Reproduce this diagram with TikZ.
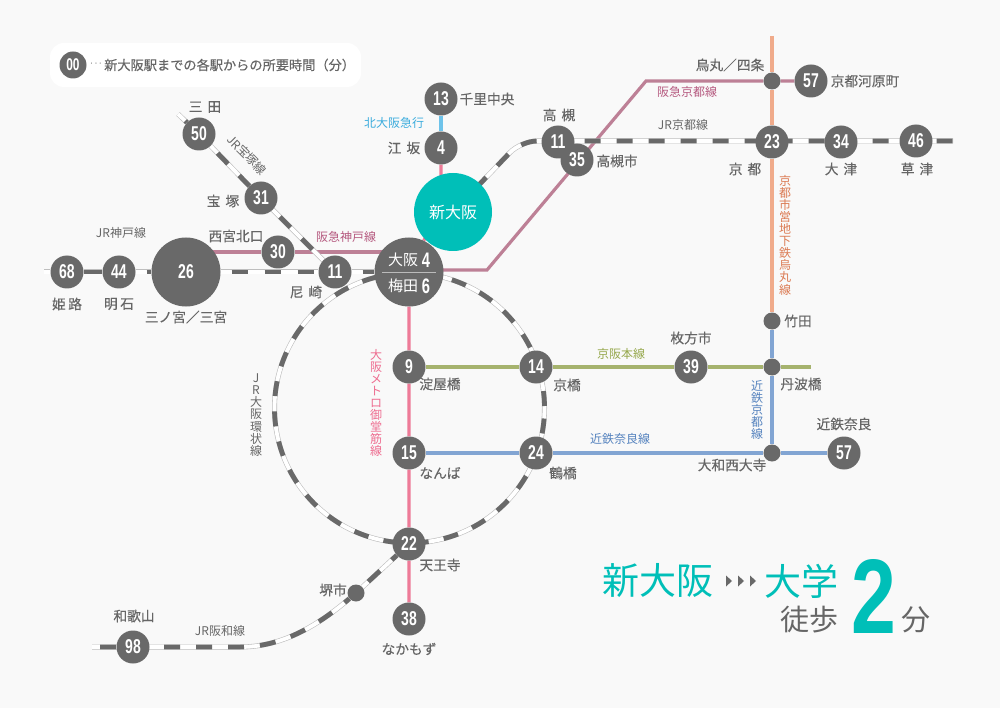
\documentclass[tikz,border=0pt]{standalone}
\usepackage{fontspec}
\setmainfont{Noto Sans CJK JP}
\newfontfamily\lblfont[FakeBold=0.25]{Noto Sans CJK JP}
\newfontfamily\numfont[FakeStretch=0.7]{Liberation Sans Bold}
\newfontfamily\bigfont[FakeStretch=0.76]{Liberation Sans Bold}
\pgfdeclarelayer{bg}
\pgfsetlayers{bg,main}
\definecolor{paper}{HTML}{F9F9F9}
\definecolor{stn}{HTML}{696969}
\definecolor{ink}{HTML}{666666}
\definecolor{teal}{HTML}{00BFB8}
\definecolor{edgegrey}{HTML}{BEBEBE}
\definecolor{hankyu}{HTML}{BD8096}
\definecolor{hankyutx}{HTML}{B5597F}
\definecolor{midosuji}{HTML}{EE7B98}
\definecolor{midotx}{HTML}{EE6D90}
\definecolor{kita}{HTML}{6EC3EA}
\definecolor{kitatx}{HTML}{3BACDD}
\definecolor{karasuma}{HTML}{F0AB8B}
\definecolor{karatx}{HTML}{DB7A52}
\definecolor{kintetsu}{HTML}{82A5D3}
\definecolor{kintx}{HTML}{5482BE}
\definecolor{keihan}{HTML}{A6B36E}
\definecolor{keitx}{HTML}{96A84C}
\tikzset{
  stnbase/.style={circle,fill=stn,text=white,inner sep=0pt,font=\numfont\fontsize{20}{20}\selectfont},
  stnsmall/.style={stnbase,minimum size=33pt},
  stnbig/.style={stnbase,minimum size=69pt},
  stndot/.style={circle,fill=stn,inner sep=0pt,minimum size=17pt},
  lbl/.style={text=ink,inner sep=0pt,font=\lblfont\fontsize{13.7}{13.7}\selectfont},
  linelbl/.style={inner sep=0pt,font=\fontsize{12}{12}\selectfont},
  vlbl/.style={inner sep=0pt,align=center,font=\fontsize{12}{12.1}\selectfont},
  metro/.style={line width=3.2pt,draw=#1},
  rail/.style n args={3}{draw=edgegrey,line width=5pt,
    postaction={draw=white,line width=3.8pt},
    postaction={draw=stn,line width=4.8pt,dash pattern=on #1pt off #2pt,dash phase=#3pt}},
  railsolid/.style={draw=stn,line width=4.8pt},
}
\begin{document}
\begin{tikzpicture}[x=1pt,y=-1pt]
\useasboundingbox (0,0) rectangle (1000,708);
% legend
\node[fill=white,rounded corners=14pt,minimum width=311pt,minimum height=44pt,inner sep=0pt] (legend) at (205.5,65) {};
\node[stnsmall,minimum size=27pt,font=\numfont\fontsize{17}{17}\selectfont] (s00) at (73,65) {00};
\node[inner sep=0pt,text=ink,font=\fontsize{8}{8}\selectfont] (dots) at (96,65) {···};
\node[lbl,anchor=west,font=\lblfont\fontsize{13.2}{13.2}\selectfont] (legtext) at (104,65) {新大阪駅までの各駅からの所要時間（分）};
% stations
\node[stnsmall] (sanda) at (199,134) {50};
\node[stnsmall] (takarazuka) at (261,198) {31};
\node[stnsmall] (amagasaki) at (335,272) {11};
\node[stnsmall] (nishinomiya) at (278,252) {30};
\node[stnbig] (sannomiya) at (186,272) {26};
\node[stnsmall] (akashi) at (119,272) {44};
\node[stnsmall] (himeji) at (67,272) {68};
\node[stnbig] (osaka) at (409,272) {};
\node[stnbase,fill=teal,minimum size=78pt,font=\fontsize{16}{16}\selectfont] (shin) at (453,212) {新大阪};
\node[stnsmall] (senri) at (441,99) {13};
\node[stnsmall] (esaka) at (441,148) {4};
\node[stnsmall] (takatsuki) at (558,142) {11};
\node[stnsmall] (takatsukishi) at (577,160) {35};
\node[stnsmall] (kawaramachi) at (811,81) {57};
\node[stndot] (karasumadot) at (772,81) {};
\node[stnsmall] (kyoto) at (772,142) {23};
\node[stnsmall] (otsu) at (841,142) {34};
\node[stnsmall] (kusatsu) at (916,141) {46};
\node[stndot] (takeda) at (772,321) {};
\node[stndot] (tambabashi) at (772,367) {};
\node[stnsmall] (hirakata) at (691,367) {39};
\node[stnsmall] (kyobashi) at (536,367) {14};
\node[stnsmall] (yodoyabashi) at (409,367) {9};
\node[stnsmall] (namba) at (409,453) {15};
\node[stnsmall] (tsuruhashi) at (536,453) {24};
\node[stnsmall] (tennoji) at (409,544) {22};
\node[stnsmall] (nakamozu) at (409,619) {38};
\node[stnsmall] (nara) at (844,453) {57};
\node[stndot] (saidaiji) at (772,453) {};
\node[stndot] (sakai) at (356,593) {};
\node[stnsmall] (wakayama) at (133,647) {98};
% free ends
\coordinate (ringc) at (409.5,408);
\coordinate (kobeEnd) at (44,272);
\coordinate (sandaEnd) at (178,114);
\coordinate (kyotoEnd) at (953,141);
\coordinate (kyotoBend) at (521,141);
\coordinate (hanwaEnd) at (92,647);
\coordinate (hanwaBend) at (240,647);
\coordinate (hkBend) at (487,270);
\coordinate (hkTop) at (646,81);
\coordinate (karaTop) at (772,36);
\coordinate (keihanEnd) at (811,367);
\coordinate (midoBend) at (441,204);
\begin{pgfonlayer}{bg}
\fill[paper] (0,0) rectangle (1000,708);
\draw[metro=kita] (senri) -- (esaka);
\draw[metro=midosuji] (esaka) -- (midoBend) -- (osaka) -- (yodoyabashi) -- (namba) -- (tennoji) -- (nakamozu);
\draw[metro=hankyu] (sannomiya |- nishinomiya) -- (nishinomiya) -- (osaka |- nishinomiya);
\draw[metro=hankyu,line join=miter] (osaka |- hkBend) -- (hkBend) -- (hkTop) -- (karasumadot) -- (kawaramachi);
\draw[metro=karasuma] (karaTop) -- (karasumadot) -- (kyoto) -- (takeda);
\draw[metro=kintetsu] (takeda) -- (tambabashi) -- (saidaiji);
\draw[metro=kintetsu] (namba) -- (tsuruhashi) -- (saidaiji) -- (nara);
\draw[metro=keihan] (yodoyabashi) -- (kyobashi) -- (hirakata) -- (tambabashi) -- (keihanEnd);
\draw[rail={16}{17}{22}] (kobeEnd) -- (himeji) -- (akashi) -- (sannomiya) -- (amagasaki) -- (osaka);
\draw[railsolid] (himeji) -- (akashi);
\draw[rail={15}{16}{21}] (sandaEnd) -- (sanda) -- (takarazuka) -- (amagasaki);
\draw[rail={16}{16}{0},rounded corners=16pt] (shin.center) -- (kyotoBend) -- (kyotoEnd);
\draw[rail={15}{15.4}{28.4}] (ringc) circle[radius=135pt];
\draw[rail={16}{16}{24}] (hanwaEnd) -- (hanwaBend) .. controls (280,647) and (315,628) .. (sakai) -- (tennoji);
\end{pgfonlayer}
% Osaka text
\draw[draw=white,opacity=.55,line width=.6pt] ([xshift=-27pt]osaka.center) -- ([xshift=27pt]osaka.center);
\node[text=white,inner sep=0pt,font=\fontsize{15}{15}\selectfont] (osakaA) at (403,260) {大阪};
\node[text=white,inner sep=0pt,font=\numfont\fontsize{21}{21}\selectfont] (osakaB) at (426,260) {4};
\node[text=white,inner sep=0pt,font=\fontsize{15}{15}\selectfont] (umedaA) at (403,286) {梅田};
\node[text=white,inner sep=0pt,font=\numfont\fontsize{21}{21}\selectfont] (umedaB) at (426,286) {6};
% station labels
\node[lbl] (l1) at (205,107) {三\hspace{5pt}田};
\node[lbl] (l2) at (223,201) {宝\hspace{5pt}塚};
\node[lbl] (l3) at (236,236) {西宮北口};
\node[lbl] (l4) at (306,292) {尼\hspace{5pt}崎};
\node[lbl] (l5) at (67,304) {姫\hspace{2.5pt}路};
\node[lbl] (l6) at (119,304) {明\hspace{2.5pt}石};
\node[lbl] (l7) at (186,317) {三ノ宮／三宮};
\node[lbl] (l8) at (487,99) {千里中央};
\node[lbl] (l9) at (404,148) {江\hspace{5pt}坂};
\node[lbl] (l10) at (559,115) {高\hspace{5pt}槻};
\node[lbl] (l11) at (617,161) {高槻市};
\node[lbl] (l12) at (730,65) {烏丸／四条};
\node[lbl] (l13) at (865,81) {京都河原町};
\node[lbl] (l14) at (745,169) {京\hspace{5pt}都};
\node[lbl] (l15) at (841,169) {大\hspace{5pt}津};
\node[lbl] (l16) at (917,169) {草\hspace{5pt}津};
\node[lbl] (l17) at (798,321) {竹田};
\node[lbl] (l18) at (691,338) {枚方市};
\node[lbl] (l19) at (801,384) {丹波橋};
\node[lbl] (l20) at (844,424) {近鉄奈良};
\node[lbl] (l21) at (732,465) {大和西大寺};
\node[lbl] (l22) at (567,385) {京橋};
\node[lbl] (l23) at (563,473) {鶴橋};
\node[lbl] (l24) at (440,384) {淀屋橋};
\node[lbl] (l25) at (440,473) {なんば};
\node[lbl] (l26) at (440,565) {天王寺};
\node[lbl] (l27) at (333,590) {堺市};
\node[lbl] (l28) at (134,616) {和歌山};
\node[lbl] (l29) at (409,649) {なかもず};
% line labels
\node[linelbl,text=ink] (t1) at (121,233) {JR神戸線};
\node[linelbl,text=ink,rotate=-45] (t2) at (247,155) {JR宝塚線};
\node[linelbl,text=hankyutx] (t3) at (346,237) {阪急神戸線};
\node[linelbl,text=kitatx] (t4) at (394,123) {北大阪急行};
\node[linelbl,text=hankyutx] (t5) at (687,92) {阪急京都線};
\node[linelbl,text=ink] (t6) at (683,125) {JR京都線};
\node[linelbl,text=keitx] (t7) at (621,354) {京阪本線};
\node[linelbl,text=kintx] (t8) at (620,439) {近鉄奈良線};
\node[linelbl,text=ink] (t9) at (220,631) {JR阪和線};
\node[vlbl,text=karatx] (v1) at (785,235) {京\\都\\市\\営\\地\\下\\鉄\\烏\\丸\\線};
\node[vlbl,text=kintx] (v2) at (757,410) {近\\鉄\\京\\都\\線};
\node[vlbl,text=ink] (v3) at (256,415) {J\\R\\大\\阪\\環\\状\\線};
\node[vlbl,text=midotx] (v4) at (376,403) {大\\阪\\メ\\ト\\ロ\\御\\堂\\筋\\線};
% headline
\node[inner sep=0pt,text=teal,font=\fontsize{37}{37}\selectfont] (h1) at (658,581) {新大阪};
\fill[stn] (726,575.5) -- (732,581) -- (726,586.5) -- cycle
           (738,575.5) -- (744,581) -- (738,586.5) -- cycle
           (750,575.5) -- (756,581) -- (750,586.5) -- cycle;
\node[inner sep=0pt,text=teal,font=\fontsize{37}{37}\selectfont] (h2) at (801,581) {大学};
\node[inner sep=0pt,text=ink,font=\fontsize{29}{29}\selectfont] (h3) at (809,620) {徒歩};
\node[inner sep=0pt,text=teal,font=\bigfont\fontsize{106}{106}\selectfont] (h4) at (874,596) {2};
\node[inner sep=0pt,text=ink,font=\fontsize{29}{29}\selectfont] (h5) at (916,620) {分};
\end{tikzpicture}
\end{document}
